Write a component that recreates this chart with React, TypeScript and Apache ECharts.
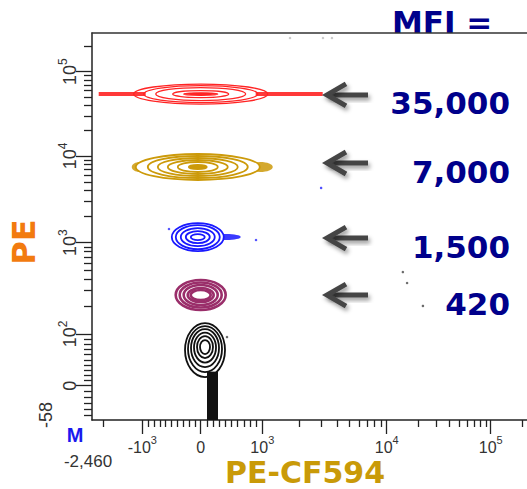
import React, { useEffect, useRef } from "react";
import * as echarts from "echarts";

// ---------- text ----------
const xAxisTitle = "PE-CF594";
const yAxisTitle = "PE";
const mfiTitle = "MFI =";
const xMinLabel = "-2,460";
const yMinLabel = "-58";
const cornerMark = "M";

// ---------- display scale (value -> display channel) ----------
const xScaleAnchors = [[-2460, 0], [-2000, 11.3], [-1000, 50.3], [0, 108.7], [1000, 170.3], [10000, 294.7], [100000, 398.7]];
const yScaleAnchors = [[-58, 0], [0, 34.3], [100, 86], [1000, 177.3], [10000, 264], [100000, 348.3]];
const X_CHANNELS = 435;
const Y_CHANNELS = 387;

// ---------- ticks ----------
const xMajorTicks = [-1000, 0, 1000, 10000, 100000];
const xMajorLabels = ["-10^3", "0", "10^3", "10^4", "10^5"];
const xMinorTicks = [-2000, -900, -800, -700, -600, -500, -400, -300, -200, -100,
  100, 200, 300, 400, 500, 600, 700, 800, 900,
  2000, 3000, 4000, 5000, 6000, 7000, 8000, 9000,
  20000, 30000, 40000, 50000, 60000, 70000, 80000, 90000, 200000];
const yMajorTicks = [0, 100, 1000, 10000, 100000];
const yMajorLabels = ["0", "10^2", "10^3", "10^4", "10^5"];
const yMinorTicks = [-50, -40, -30, -20, -10, 10, 20, 30, 40, 50, 60, 70, 80, 90,
  200, 300, 400, 500, 600, 700, 800, 900,
  2000, 3000, 4000, 5000, 6000, 7000, 8000, 9000,
  20000, 30000, 40000, 50000, 60000, 70000, 80000, 90000, 200000];

// ---------- populations ----------
const popNames = ["bead 35,000", "bead 7,000", "bead 1,500", "bead 420", "unstained"];
const popColors = ["#ff2424", "#cc9a0a", "#1818ff", "#9a2e6a", "#111111"];
const popPECF594 = [0, -50, -50, 0, 70];
const popPE = [54300, 7470, 1160, 267, 69];
// contour half-widths / half-heights / vertical offset in display channels (outer -> inner)
const popContours = [
  [[67, 10, 0], [57, 8.5, 0], [45, 6.5, 0], [28, 3.5, 0], [17, 1.2, 0]],
  [[62, 13, 0], [50, 11, 0], [40, 9, 0], [30, 7, 0], [20, 5, 0], [9, 2, 0]],
  [[26, 14, 0], [22, 12, 0], [17, 9, 0], [12, 6, 0], [7, 3, 0]],
  [[25, 15, 0], [21, 12.5, 0], [17, 10, 0], [13, 7, 0], [10, 5, 0]],
  [[20, 27, 0], [17, 23, 1], [14, 19, 2], [11, 15, 2.5], [8, 11, 3], [5, 7, 3]],
];
const popLineWidth = [1.3, 1.8, 1.8, 2.6, 1.8];
const popCoreFilled = [true, true, false, false, false];
// speckle spread: [left reach, right reach, thickness] in channels
const popSpread = [[-102, 122, 4], [-66, 75, 10], [0, 43, 6], [0, 0, 0], [0, 0, 0]];
const popSpreadShape = ["rect", "ellipse", "ellipse", "", ""];
// black stem below the unstained population: [left offset, right offset] in channels
const popStem = [null, null, null, null, [2, 13]];

// ---------- MFI annotations ----------
const mfiLabels = ["35,000", "7,000", "1,500", "420"];
const markerPE = [53000, 8300, 1130, 267];

// ---------- stray events ----------
const strayPECF594 = [14300, 15700, 22300, 2970, 898, -543, 427, 1670, 3075, 3630];
const strayPE = [477, 362, 203, 4280, 1074, 1439, 94, 251000, 251000, 251000];
const strayColor = ["#444", "#444", "#444", "#2222ff", "#2222ff", "#2222ff", "#444", "#bbb", "#bbb", "#bbb"];

function makeBiex(anchors: number[][]) {
  const n = anchors.length;
  return (v: number): number => {
    let i = 0;
    while (i < n - 2 && v > anchors[i + 1][0]) i++;
    const [v0, c0] = anchors[i];
    const [v1, c1] = anchors[i + 1];
    if (v0 * v1 > 0) {
      const l0 = Math.log10(Math.abs(v0));
      const l1 = Math.log10(Math.abs(v1));
      const l = Math.log10(Math.abs(v));
      return c0 + ((c1 - c0) * (l - l0)) / (l1 - l0);
    }
    return c0 + ((c1 - c0) * (v - v0)) / (v1 - v0);
  };
}
const xT = makeBiex(xScaleAnchors);
const yT = makeBiex(yScaleAnchors);

function richLabel(s: string) {
  const m = s.match(/^(.*)\^(.*)$/);
  return m ? `{n|${m[1]}}{s|${m[2]}}` : `{n|${s}}`;
}
function labelLookup(ticks: number[], labels: string[], T: (v: number) => number) {
  return (v: number) => {
    for (let i = 0; i < ticks.length; i++) if (Math.abs(T(ticks[i]) - v) < 0.05) return richLabel(labels[i]);
    return "";
  };
}

const AXIS = "#222";
const LABEL_FONT = "Liberation Sans";
const BOLD_FONT = "DejaVu Sans";

export default function App() {
  const ref = useRef<HTMLDivElement>(null);
  useEffect(() => {
    if (!ref.current) return;
    const chart = echarts.init(ref.current, undefined, { renderer: "svg" });
    const baseX = { type: "value", min: 0, max: X_CHANNELS, gridIndex: 0, splitLine: { show: false } };
    const baseY = { type: "value", min: 0, max: Y_CHANNELS, gridIndex: 0, splitLine: { show: false } };
    const option: any = {
      animation: false,
      backgroundColor: "#fff",
      grid: { left: 92, top: 33, right: 0, bottom: 69, containLabel: false },
      xAxis: [
        {
          ...baseX, position: "bottom",
          axisLine: { show: true, onZero: false, lineStyle: { color: AXIS, width: 1.5 } },
          axisTick: { show: true, length: 7, customValues: xMinorTicks.map(xT), lineStyle: { color: AXIS, width: 1.3 } },
          axisLabel: {
            show: true, customValues: xMajorTicks.map(xT), margin: 21,
            formatter: labelLookup(xMajorTicks, xMajorLabels, xT),
            rich: {
              n: { fontSize: 16, fontFamily: LABEL_FONT, color: "#333", lineHeight: 14, verticalAlign: "bottom" },
              s: { fontSize: 11, fontFamily: LABEL_FONT, color: "#333", lineHeight: 14, verticalAlign: "bottom", padding: [0, 0, 10, 0] },
            },
          },
        },
        {
          ...baseX, position: "bottom",
          axisLine: { show: false, onZero: false },
          axisTick: { show: true, length: 14, customValues: xMajorTicks.map(xT), lineStyle: { color: AXIS, width: 1.3 } },
          axisLabel: { show: false },
        },
        {
          ...baseX, position: "top",
          axisLine: { show: true, onZero: false, lineStyle: { color: "#333", width: 1.5 } },
          axisTick: { show: false }, axisLabel: { show: false },
        },
      ],
      yAxis: [
        {
          ...baseY, position: "left",
          axisLine: { show: true, onZero: false, lineStyle: { color: AXIS, width: 1.5 } },
          axisTick: { show: true, length: 8, customValues: yMinorTicks.map(yT), lineStyle: { color: AXIS, width: 1.3 } },
          axisLabel: {
            show: true, customValues: yMajorTicks.map(yT), rotate: 90, margin: 13,
            formatter: labelLookup(yMajorTicks, yMajorLabels, yT),
            rich: {
              n: { fontSize: 18, fontFamily: LABEL_FONT, color: "#333", lineHeight: 22, verticalAlign: "bottom" },
              s: { fontSize: 12, fontFamily: LABEL_FONT, color: "#333", lineHeight: 6, verticalAlign: "top" },
            },
          },
        },
        {
          ...baseY, position: "left",
          axisLine: { show: false, onZero: false },
          axisTick: { show: true, length: 16, customValues: yMajorTicks.map(yT), lineStyle: { color: AXIS, width: 1.3 } },
          axisLabel: { show: false },
        },
      ],
      series: [
        {
          type: "custom",
          name: "populations",
          xAxisIndex: 0, yAxisIndex: 0,
          clip: true,
          data: popPE.map((v, i) => [xT(popPECF594[i]), yT(v), i]),
          renderItem: (params: any, api: any) => {
            const i = api.value(2);
            const c = api.coord([api.value(0), api.value(1)]);
            const s = api.size([1, 1]);
            const kx = s[0], ky = s[1];
            const color = popColors[i];
            const children: any[] = [];
            const sp = popSpread[i];
            const outer = popContours[i][0];
            const addSpread = (x0: number, x1: number) => {
              if (popSpreadShape[i] === "rect") {
                children.push({
                  type: "rect",
                  shape: { x: c[0] + x0 * kx, y: c[1] - (sp[2] / 2) * ky, width: (x1 - x0) * kx, height: sp[2] * ky },
                  style: { fill: color, opacity: 0.9 },
                });
              } else {
                children.push({
                  type: "ellipse",
                  shape: { cx: c[0] + ((x0 + x1) / 2) * kx, cy: c[1], rx: ((x1 - x0) / 2) * kx, ry: (sp[2] / 2) * ky },
                  style: { fill: color, opacity: 0.85 },
                });
              }
            };
            if (sp[2] > 0) {
              if (sp[0] < -outer[0]) addSpread(sp[0], -outer[0] + 12);
              if (sp[1] > outer[0]) addSpread(outer[0] - 12, sp[1]);
            }
            const stem = popStem[i];
            if (stem) {
              const bottom = api.coord([0, 0])[1];
              const top = c[1] + outer[1] * ky * 0.8;
              children.push({
                type: "rect",
                shape: { x: c[0] + stem[0] * kx, y: top, width: (stem[1] - stem[0]) * kx, height: bottom - top },
                style: { fill: color },
              });
            }
            const cs = popContours[i];
            cs.forEach(([rx, ry, dy], k) => {
              const core = popCoreFilled[i] && k === cs.length - 1;
              children.push({
                type: "ellipse",
                shape: { cx: c[0], cy: c[1] - dy * ky, rx: rx * kx, ry: ry * ky },
                style: { fill: core ? color : (k === 0 && popSpreadShape[i] === "ellipse" ? "#fff" : "none"), stroke: color, lineWidth: popLineWidth[i] },
              });
            });
            return { type: "group", children };
          },
        },
        {
          type: "scatter",
          name: "events",
          xAxisIndex: 0, yAxisIndex: 0,
          symbolSize: 2.5,
          data: strayPE.map((v, i) => ({ value: [xT(strayPECF594[i]), yT(v)], itemStyle: { color: strayColor[i] } })),
        },
        {
          type: "custom",
          name: "MFI",
          xAxisIndex: 0, yAxisIndex: 0,
          clip: false,
          data: markerPE.map((v, i) => [yT(v), i]),
          renderItem: (params: any, api: any) => {
            const i = api.value(1);
            const y = api.coord([0, api.value(0)])[1];
            const tipX = api.coord([233, 0])[0];
            const tailX = api.coord([276, 0])[0];
            const labelX = api.coord([418, 0])[0];
            const shadow = { shadowBlur: 4, shadowOffsetX: 2, shadowOffsetY: 3, shadowColor: "rgba(0,0,0,0.4)" };
            return {
              type: "group",
              children: [
                { type: "rect", shape: { x: tipX + 3, y: y - 2.5, width: tailX - tipX - 3, height: 5 }, style: { fill: "#454545", ...shadow } },
                {
                  type: "polyline",
                  shape: { points: [[tipX + 21, y - 11], [tipX + 2, y], [tipX + 21, y + 11]] },
                  style: { stroke: "#454545", lineWidth: 5, fill: "none", lineJoin: "miter", ...shadow },
                },
                {
                  type: "text",
                  style: {
                    text: mfiLabels[i], x: labelX, y: y + 8.5, align: "right", verticalAlign: "middle",
                    font: `bold 31px "${BOLD_FONT}"`, fill: "#00008b",
                  },
                },
              ],
            };
          },
        },
      ],
      graphic: [
        {
          type: "text", x: 392, y: 21.5,
          style: { text: mfiTitle, font: `bold 31px "${BOLD_FONT}"`, fill: "#00008b", align: "left", verticalAlign: "middle" },
        },
        {
          type: "text", x: 23.5, y: 242, rotation: Math.PI / 2,
          style: { text: yAxisTitle, font: `bold 32px "${BOLD_FONT}"`, fill: "#f27b0f", align: "center", verticalAlign: "middle" },
        },
        {
          type: "text", x: 305, y: 472,
          style: { text: xAxisTitle, font: `bold 30px "${BOLD_FONT}"`, fill: "#c99a08", align: "center", verticalAlign: "middle" },
        },
        {
          type: "text", x: 88, y: 461,
          style: { text: xMinLabel, font: `17px "${LABEL_FONT}"`, fill: "#333", align: "center", verticalAlign: "middle" },
        },
        {
          type: "text", x: 46, y: 415, rotation: Math.PI / 2,
          style: { text: yMinLabel, font: `18px "${LABEL_FONT}"`, fill: "#333", align: "center", verticalAlign: "middle" },
        },
        {
          type: "text", x: 75, y: 435,
          style: { text: cornerMark, font: `bold 20px "${LABEL_FONT}"`, fill: "#1a1aee", align: "center", verticalAlign: "middle" },
        },
      ],
    };
    chart.setOption(option);
    return () => chart.dispose();
  }, []);
  return (
    <div
      ref={ref}
      style={{ position: "absolute", left: 0, top: 0, width: 527, height: 489, background: "#fff" }}
    />
  );
}
